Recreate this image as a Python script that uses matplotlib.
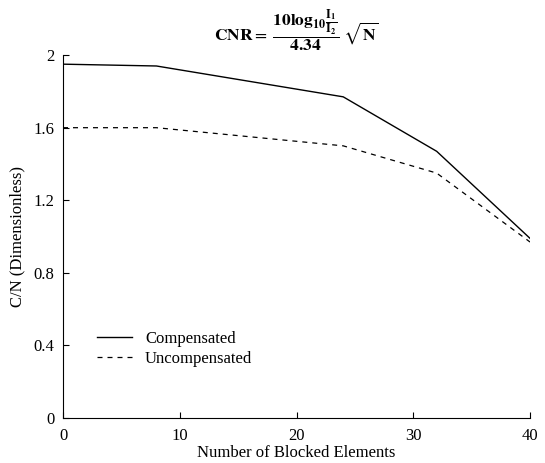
import matplotlib
matplotlib.use("Agg")
import matplotlib.pyplot as plt

blocked = [0, 8, 24, 32, 40]
compensated = [1.95, 1.94, 1.77, 1.47, 0.99]
uncompensated = [1.60, 1.60, 1.50, 1.35, 0.97]
xticks = [0, 10, 20, 30, 40]
yticks = [0, 0.4, 0.8, 1.2, 1.6, 2.0]
ytick_labels = ["0", "0.4", "0.8", "1.2", "1.6", "2"]

plt.rcParams['font.family'] = ['Liberation Serif', 'DejaVu Serif']
plt.rcParams['mathtext.fontset'] = 'stix'

fig = plt.figure(figsize=(5.45, 4.63), dpi=100)
ax = fig.add_axes([0.1156, 0.097, 0.857, 0.784])

ax.plot(blocked, compensated, color='black', lw=1.0, label='Compensated')
ax.plot(blocked, uncompensated, color='black', lw=0.9, ls=(0, (4, 4)), label='Uncompensated')

ax.set_xlim(0, 40)
ax.set_ylim(0, 2.0)
ax.set_xticks(xticks)
ax.set_yticks(yticks)
ax.set_yticklabels(ytick_labels)
ax.tick_params(direction='in', length=4, width=0.8, labelsize=12)
ax.tick_params(axis='x', pad=7)
ax.tick_params(axis='y', pad=6)
for s in ['top', 'right']:
    ax.spines[s].set_visible(False)
for s in ['left', 'bottom']:
    ax.spines[s].set_linewidth(0.8)

ax.set_xlabel('Number of Blocked Elements', fontsize=12, labelpad=1)
ax.set_ylabel('C/N (Dimensionless)', fontsize=12, labelpad=6)

ax.set_title(r'$\mathbf{CNR}{=}\ \dfrac{\mathbf{10log_{10}}\frac{\mathbf{I_1}}{\mathbf{I_2}}}{\mathbf{4.34}}\ \sqrt{\mathbf{N}}$',
             fontsize=12.5, pad=4)

leg = ax.legend(loc='lower left', bbox_to_anchor=(0.04, 0.10), frameon=False,
                fontsize=12, handlelength=2.1, labelspacing=0.25, handletextpad=0.8)

fig.savefig('out.png', dpi=100)
